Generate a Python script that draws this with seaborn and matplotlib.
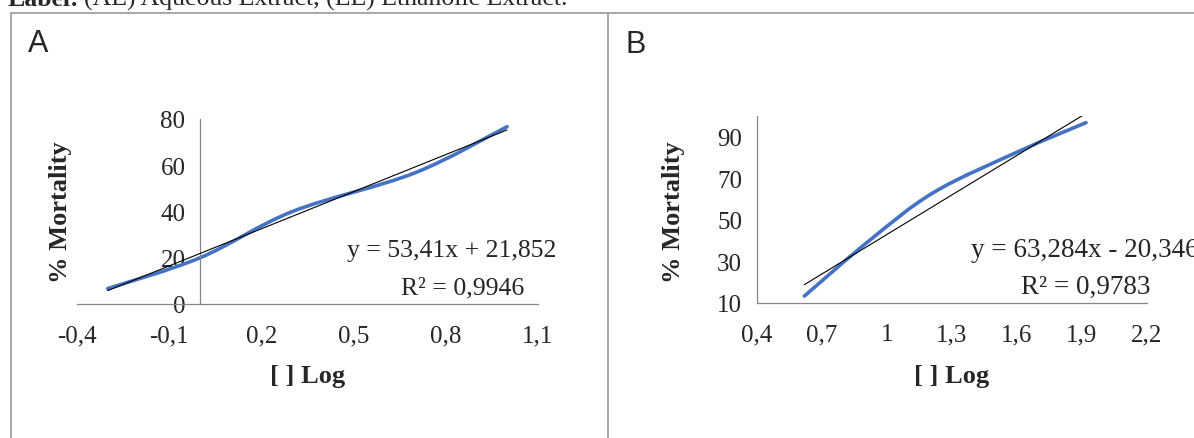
import numpy as np
import matplotlib
matplotlib.use("Agg")
import matplotlib.pyplot as plt
import seaborn as sns
from matplotlib.path import Path
from matplotlib.patches import PathPatch
from matplotlib.lines import Line2D

# values (log concentration vs % mortality)
log_conc_a = [-0.301, 0.0, 0.301, 0.699, 1.0]
mortality_a = [6.67, 20.0, 40.0, 56.67, 76.67]
log_conc_b = [0.62, 0.92, 1.22, 1.62, 1.92]
mortality_b = [13.33, 40.0, 63.33, 83.33, 96.67]

eq_a = ["y = 53,41x + 21,852", "R\u00b2 = 0,9946"]
eq_b = ["y = 63,284x - 20,346", "R\u00b2 = 0,9783"]

xticks_a = [-0.4, -0.1, 0.2, 0.5, 0.8, 1.1]
yticks_a = [0, 20, 40, 60, 80]
xticks_b = [0.4, 0.7, 1.0, 1.3, 1.6, 1.9, 2.2]
yticks_b = [10, 30, 50, 70, 90]

W, H = 1194, 439
BLUE = "#4472C4"
AXIS_GRAY = "#868686"
BORDER_GRAY = "#a0a0a0"
SERIF = ["Liberation Serif", "DejaVu Serif"]

sns.set_style("white")
plt.rcParams["font.family"] = SERIF


def fx(px):
    return px / W


def fy(py):
    return 1 - py / H


def smooth_path(xs, ys):
    # Excel-like smoothed line: cubic bezier through the points
    pts = np.column_stack([xs, ys])
    n = len(pts)
    verts = [pts[0]]
    codes = [Path.MOVETO]
    for i in range(n - 1):
        p0 = pts[max(i - 1, 0)]
        p1 = pts[i]
        p2 = pts[i + 1]
        p3 = pts[min(i + 2, n - 1)]
        verts += [p1 + (p2 - p0) / 6, p2 - (p3 - p1) / 6, p2]
        codes += [Path.CURVE4] * 3
    return Path(verts, codes)


def fmt(v):
    return f"{v:g}".replace(".", ",")


def panel(ax, x, y, xlim, ylim, xticks, yticks, eq, eq_pos, eq_size, ylab_px, yspine=None):
    ax.add_patch(PathPatch(smooth_path(x, y), fill=False, edgecolor=BLUE,
                           lw=2.6, capstyle="round", zorder=2))
    sns.regplot(x=x, y=y, ax=ax, scatter=False, ci=None, truncate=True,
                line_kws=dict(color="black", lw=0.8, zorder=3))
    ax.set_xlim(xlim)
    ax.set_ylim(ylim)
    ax.set_xticks(xticks)
    ax.set_xticklabels([fmt(v) for v in xticks])
    ax.set_yticks(yticks)
    ax.set_yticklabels([fmt(v) for v in yticks])
    sns.despine(ax=ax)
    if yspine is not None:
        ax.spines["left"].set_position(("data", yspine))
    for s in ["left", "bottom"]:
        ax.spines[s].set_color(AXIS_GRAY)
        ax.spines[s].set_linewidth(0.9)
    ax.tick_params(axis="x", direction="out", length=6, width=0.9,
                   color=AXIS_GRAY, pad=8.5, labelsize=18)
    ax.tick_params(axis="y", direction="out", length=4.5, width=0.9,
                   color=AXIS_GRAY, pad=6, labelsize=18)
    ax.set_xlabel("[ ] Log", fontsize=19, fontweight="bold")
    ax.set_ylabel("% Mortality", fontsize=19, fontweight="bold")
    ax.xaxis.label.set(va="center")
    ax.yaxis.label.set(va="center", rotation_mode="anchor")
    pos = ax.get_position()
    ax.xaxis.set_label_coords((pos.x0 + pos.x1) / 2, fy(377),
                              transform=ax.figure.transFigure)
    ax.yaxis.set_label_coords(fx(ylab_px[0]), fy(ylab_px[1]),
                              transform=ax.figure.transFigure)
    for text, (px, py, ha) in zip(eq, eq_pos):
        ax.annotate(text, xy=(fx(px), fy(py)), xycoords="figure fraction",
                    fontsize=eq_size, va="baseline", ha=ha, annotation_clip=False)


fig = plt.figure(figsize=(W / 100, H / 100), dpi=100)

ax_a = fig.add_axes([fx(77.3), fy(305), fx(537.7) - fx(77.3), fy(120) - fy(305)])
ax_b = fig.add_axes([fx(756.7), fy(304), fx(1146.7) - fx(756.7), fy(116.7) - fy(304)])

panel(ax_a, log_conc_a, mortality_a, (-0.4, 1.1), (0, 80), xticks_a, yticks_a,
      eq_a, [(452, 257, "center"), (401, 294, "left")], 18.5, (60.7, 212), yspine=0)
panel(ax_b, log_conc_b, mortality_b, (0.4, 2.2), (10, 100), xticks_b, yticks_b,
      eq_b, [(971, 257, "left"), (1021, 294, "left")], 19.5, (673.3, 212.5))

# panel letters
fig.text(fx(28), fy(52), "A", family=["Liberation Sans", "DejaVu Sans"],
         fontsize=22, va="baseline", ha="left")
fig.text(fx(625), fy(53), "B", family=["Liberation Sans", "DejaVu Sans"],
         fontsize=22, va="baseline", ha="left")

# table borders of the document
for xs, ys in [((fx(11), 1.0), (fy(13.5), fy(13.5))),
               ((fx(11), fx(11)), (fy(13.5), 0.0)),
               ((fx(607.5), fx(607.5)), (fy(13.5), 0.0))]:
    fig.add_artist(Line2D(xs, ys, color=BORDER_GRAY, lw=1.3))

# caption line cut off at the top
lab = fig.text(fx(7), fy(6), "Label:", fontsize=18.5, fontweight="bold",
               va="baseline", ha="left")
fig.canvas.draw()
ext = lab.get_window_extent(fig.canvas.get_renderer())
fig.text(ext.x1 / W + fx(5), fy(6), "(AE) Aqueous Extract, (EE) Ethanolic Extract.",
         fontsize=18.5, va="baseline", ha="left")

fig.savefig("out.png", dpi=100)
